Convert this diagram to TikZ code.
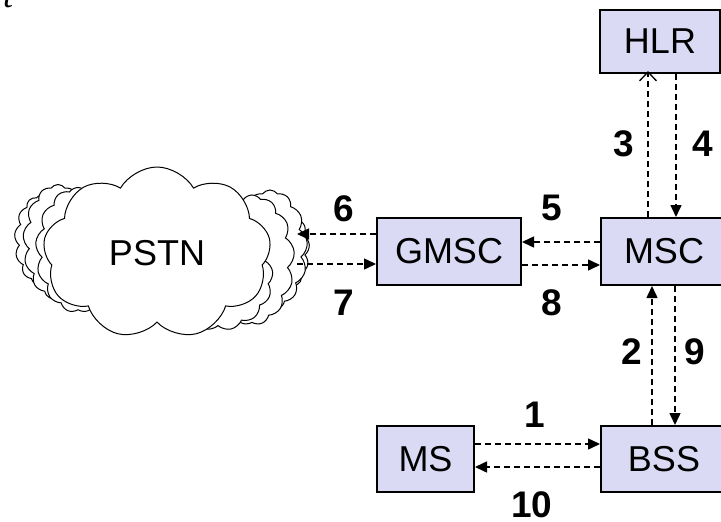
\documentclass[tikz,border=0pt]{standalone}
\usepackage{fontspec}
\setmainfont{Liberation Sans}
\newfontfamily\serifit{Liberation Serif}
\usetikzlibrary{arrows.meta,shapes.symbols}
\definecolor{boxfill}{RGB}{218,218,244}
\tikzset{
  box/.style={draw, line width=2pt, fill=boxfill, inner sep=0pt,
    font=\fontsize{36}{40}\selectfont},
  lbl/.style={font=\bfseries\fontsize{37}{40}\selectfont, inner sep=0pt},
  dsh/.style={line width=1.5pt, dash pattern=on 6pt off 4pt},
  arr/.style={dsh, -{Triangle[length=12pt,width=11pt]}},
  openarr/.style={dsh, -{Straight Barb[length=9pt,width=17pt,line width=1.3pt]}},
  puff/.style={cloud, draw, line width=1pt, fill=white, cloud puffs=13,
    cloud puff arc=110, aspect=1.4, inner sep=0pt},
}
\begin{document}
\begin{tikzpicture}[x=1pt,y=-1pt]
\useasboundingbox (0,0) rectangle (721,522);
\clip (0,0) rectangle (721,522);
% partially visible letter
\node[anchor=base west, inner sep=0pt, font=\serifit\itshape\fontsize{36}{40}\selectfont] (tt) at (3,8) {t};
% cloud
\node[puff, minimum width=55pt, minimum height=85pt] (cR0) at (282,250) {};
\node[puff, minimum width=75pt, minimum height=120pt] (cR1) at (270,250) {};
\node[puff, minimum width=85pt, minimum height=130pt] (cR2) at (252,260) {};
\node[puff, minimum width=110pt, minimum height=105pt] (cR3) at (218,278) {};
\node[puff, minimum width=55pt, minimum height=90pt] (cL0) at (42,240) {};
\node[puff, minimum width=70pt, minimum height=115pt] (cL1) at (58,242) {};
\node[puff, minimum width=85pt, minimum height=125pt] (cL2) at (78,250) {};
\node[puff, cloud puffs=9, cloud puff arc=120, minimum width=228pt, minimum height=172pt] (pstn) at (157,253)
  {\fontsize{36}{40}\selectfont PSTN};
\coordinate (pstnA) at (297,234);
\coordinate (pstnB) at (297,264);
% boxes
\node[box, minimum width=120pt, minimum height=63pt] (hlr) at (660,41.5) {HLR};
\node[box, minimum width=144pt, minimum height=67pt] (gmsc) at (449,251.5) {GMSC};
\node[box, minimum width=126pt, minimum height=67pt] (msc) at (664,251.5) {MSC};
\node[box, minimum width=97pt, minimum height=66pt] (ms) at (425.5,459) {MS};
\node[box, minimum width=126pt, minimum height=66pt] (bss) at (664,459) {BSS};
% x / y guides
\coordinate (x3) at (648,0);
\coordinate (x4) at (676,0);
\coordinate (x2) at (652,0);
\coordinate (x9) at (675,0);
\coordinate (y5) at (0,242);
\coordinate (y8) at (0,265);
\coordinate (y1) at (0,444);
\coordinate (y10) at (0,467);
% connectors
\draw[openarr] (msc.north -| x3) -- ([yshift=3pt]hlr.south -| x3);
\draw[arr] (hlr.south -| x4) -- (msc.north -| x4);
\draw[arr] (bss.north -| x2) -- (msc.south -| x2);
\draw[arr] (msc.south -| x9) -- (bss.north -| x9);
\draw[arr] (msc.west |- y5) -- (gmsc.east |- y5);
\draw[arr] (gmsc.east |- y8) -- (msc.west |- y8);
\draw[arr] (gmsc.west |- pstnA) -- (pstnA);
\draw[arr] (pstnB) -- (gmsc.west |- pstnB);
\draw[arr] (ms.east |- y1) -- (bss.west |- y1);
\draw[arr] (bss.west |- y10) -- (ms.east |- y10);
% labels
\node[lbl] (l1) at (535,415) {1};
\node[lbl] (l2) at (632,352) {2};
\node[lbl] (l3) at (624,144) {3};
\node[lbl] (l4) at (703,144) {4};
\node[lbl] (l5) at (552,208) {5};
\node[lbl] (l6) at (344,209) {6};
\node[lbl] (l7) at (344,303) {7};
\node[lbl] (l8) at (552,303) {8};
\node[lbl] (l9) at (695,352) {9};
\node[lbl] (l10) at (532,505) {10};
\end{tikzpicture}
\end{document}
